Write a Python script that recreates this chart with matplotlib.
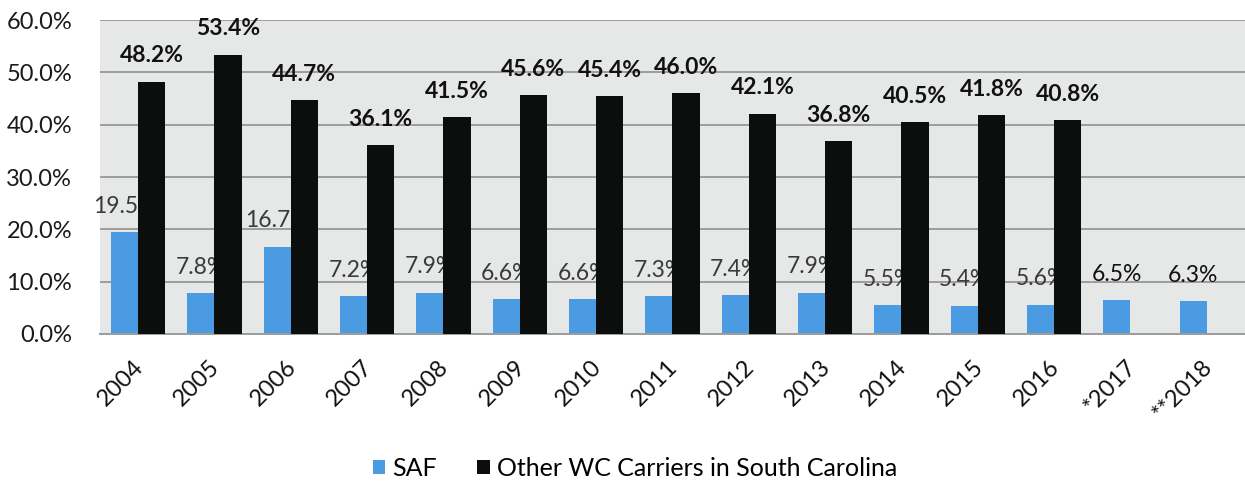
import numpy as np
import matplotlib
matplotlib.use("Agg")
import matplotlib.pyplot as plt
from matplotlib.patches import Patch
from matplotlib.transforms import ScaledTranslation

# --------------------------------------------------
#  Data
# --------------------------------------------------
years = ["2004", "2005", "2006", "2007", "2008", "2009", "2010", "2011",
         "2012", "2013", "2014", "2015", "2016", "*2017", "**2018"]
saf = [19.5, 7.8, 16.7, 7.2, 7.9, 6.6, 6.6, 7.3, 7.4, 7.9, 5.5, 5.4, 5.6, 6.5, 6.3]
other_wc = [48.2, 53.4, 44.7, 36.1, 41.5, 45.6, 45.4, 46.0, 42.1, 36.8, 40.5,
            41.8, 40.8, np.nan, np.nan]
saf_labels = ["19.5", "7.8%", "16.7", "7.2%", "7.9%", "6.6%", "6.6%", "7.3%",
              "7.4%", "7.9%", "5.5%", "5.4%", "5.6%", "6.5%", "6.3%"]
yticks = [0, 10, 20, 30, 40, 50, 60]

BLUE = "#4a9be2"
BLACK = "#0c0d0d"
BG = "#e6e8e8"

plt.rcParams["font.family"] = ["Lato", "DejaVu Sans"]

fig = plt.figure(figsize=(12.45, 4.86), dpi=100)
ax = fig.add_axes([0.0803, 0.3128, 0.9197, 0.646])
ax.set_facecolor(BG)

x = np.arange(len(years))
w = 0.355

b_saf = ax.bar(x - w / 2, saf, width=w, color=BLUE, zorder=2)
b_oth = ax.bar(x + w / 2, other_wc, width=w, color=BLACK, zorder=4)

# SAF labels sit behind the black bars (as in the source)
for xi, v, lab in zip(x, saf, saf_labels):
    txt = lab if lab.endswith("%") else lab + "%"
    col = "#111111" if xi >= 13 else "#3a3a3a"
    ax.annotate(txt, (xi - w / 2, v), xytext=(0, 11), textcoords="offset points",
                ha="center", va="bottom", fontsize=16.5, color=col, zorder=3)

for xi, v in zip(x, other_wc):
    if np.isnan(v):
        continue
    ax.annotate(f"{v:.1f}%", (xi + w / 2, v), xytext=(0, 11), textcoords="offset points",
                ha="center", va="bottom", fontsize=16.5, color="#111111",
                fontweight="bold", zorder=5, annotation_clip=False)

ax.set_xlim(-0.5, len(years) - 0.5)
ax.set_ylim(0, 60)
ax.set_yticks(yticks)
ax.set_yticklabels([f"{t:.1f}%" for t in yticks], fontsize=17, color="#1a1a1a")
ax.yaxis.grid(True, color="#9c9c9c", linewidth=1.4, zorder=1)
ax.set_axisbelow(True)
ax.tick_params(axis="y", length=0, pad=20)
ax.tick_params(axis="x", length=0, pad=16)
ax.set_xticks(x)
ax.set_xticklabels(years, rotation=45, ha="right", rotation_mode="anchor",
                   fontsize=17, color="#111111")
shift = ScaledTranslation(-4 / 72, 0, fig.dpi_scale_trans)
for lbl in ax.get_xticklabels():
    lbl.set_transform(lbl.get_transform() + shift)
for s in ["left", "right", "top"]:
    ax.spines[s].set_visible(False)
ax.spines["bottom"].set_color("#9c9c9c")
ax.spines["bottom"].set_linewidth(1.4)

handles = [Patch(facecolor=BLUE, label="SAF"),
           Patch(facecolor=BLACK, label="Other WC Carriers in South Carolina")]
fig.legend(handles=handles, loc="center", bbox_to_anchor=(0.51, 0.037), ncol=2,
           frameon=False, fontsize=18, handlelength=0.5, handleheight=0.5,
           handletextpad=0.3, columnspacing=1.6)

fig.savefig("out.png", dpi=100, facecolor="white")
